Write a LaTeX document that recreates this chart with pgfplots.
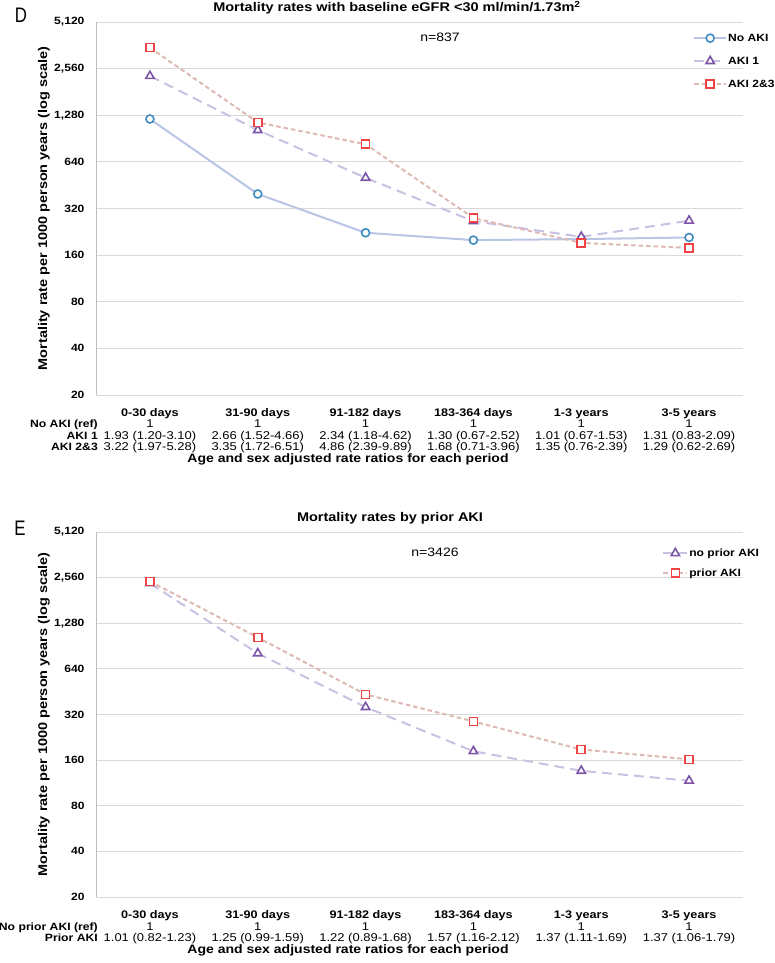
\documentclass[border=0pt]{standalone}
\usepackage{pgfplots}
\pgfplotsset{compat=1.18}
\usepackage{fontspec}
\setmainfont[FakeStretch=1.15]{Liberation Sans}
\newfontfamily\dfont[FakeStretch=0.8]{Liberation Sans}
\definecolor{gridc}{HTML}{D9D9D9}
\definecolor{axc}{HTML}{BFBFBF}
\definecolor{c1L}{HTML}{B8C5E4}
\definecolor{c1M}{HTML}{3F8BC2}
\definecolor{c2L}{HTML}{C9C1E1}
\definecolor{c2M}{HTML}{7D55A8}
\definecolor{c3L}{HTML}{DDB9B3}
\definecolor{c3M}{HTML}{F04444}
\newcommand{\fs}[1]{\fontsize{#1}{#1}\selectfont}

\tikzset{
  tabrow/.style={font=\fs{11.3}, text height=9pt, text depth=3pt, inner sep=0pt, anchor=center},
  tablab/.style={font=\bfseries\fs{10.6}, text height=9pt, text depth=3pt, inner sep=0pt, anchor=east, xshift=2pt},
  sA/.style={c1L, line width=2pt, mark=*, mark size=4pt, mark options={draw=c1M, solid, line width=1.6pt, fill=white}},
  sB/.style={c2L, line width=2pt, dash pattern=on 10pt off 6pt, mark=triangle*, mark size=4.8pt, mark options={draw=c2M, solid, line width=1.6pt, fill=white}},
  sC/.style={c3L, line width=2pt, dash pattern=on 4.5pt off 3pt, mark=square*, mark size=4pt, mark options={draw=c3M, solid, line width=1.6pt, fill=white}},
}

\begin{document}
\begin{tikzpicture}[x=1pt,y=1pt]
\path[use as bounding box] (0,0) rectangle (775,963);
\node[font=\dfont\fs{21}, anchor=center] at (21,948) {D};
\node[font=\dfont\fs{21}, anchor=center] at (20,435) {E};

% ---------------- Panel D ----------------
\begin{axis}[at={(96pt,568pt)}, anchor=south west, height=373pt,
    scale only axis, width=647pt,
    xmin=-0.5, xmax=5.5,
    ymode=log, log basis y=2, ymin=20, ymax=5120,
    ytick={20,40,80,160,320,640,1280,2560,5120},
    yticklabels={20,40,80,160,320,640,{1,280},{2,560},{5,120}},
    xtick={0,1,2,3,4,5},
    xticklabels={0-30 days,31-90 days,91-182 days,183-364 days,1-3 years,3-5 years},
    major tick length=0pt,
    axis x line=bottom, axis y line=left,
    axis line style={-, draw=axc, line width=0.8pt},
    x axis line style={draw=none},
    ymajorgrids, grid style={gridc, line width=0.8pt},
    yticklabel style={font=\bfseries\fs{10.5}, xshift=-8pt},
    xticklabel style={font=\bfseries\fs{11}, anchor=center, text height=9pt, text depth=3pt, inner sep=0pt, yshift=-18.7pt},
    ylabel={Mortality rate per 1000 person years (log scale)},
    ylabel style={font=\bfseries\fs{12.6}, at={(axis description cs:-0.0804,0.5)}, anchor=center},
    xlabel={Age and sex adjusted rate ratios for each period},
    clip=false,
    legend cell align=left,
  title={Mortality rates with baseline eGFR <30 ml/min/1.73m\textsuperscript{2}},
  title style={font=\bfseries\fs{12.6}, at={(axis description cs:0.4652,1)}, anchor=center, text height=10pt, text depth=3pt, inner sep=0pt, yshift=7.5pt},
  xlabel style={font=\bfseries\fs{12.2}, at={(axis description cs:0.3895,0)}, anchor=center, text height=10pt, text depth=3pt, inner sep=0pt, yshift=-63.9pt},
  legend style={at={(axis description cs:0.9227,0.976)}, anchor=north west, row sep=9pt, draw=none, fill=none, inner sep=0pt, font=\bfseries\fs{10.5},
      nodes={inner sep=1pt, text height=9pt, text depth=3pt}},
  legend image code/.code={\draw[mark repeat=2,mark phase=2,#1] plot coordinates {(0pt,0pt)(16pt,0pt)(32pt,0pt)};},
]
\addplot[sA] coordinates {(0,1210)(1,397)(2,223)(3,200)(4,203)(5,208)};
\addlegendentry{No AKI}
\addplot[sB] coordinates {(0,2293)(1,1026)(2,505)(3,265)(4,210)(5,267)};
\addlegendentry{AKI 1}
\addplot[sC] coordinates {(0,3495)(1,1151)(2,831)(3,278)(4,192)(5,178)};
\addlegendentry{AKI 2\&3}
\node[font=\fs{12.2}, anchor=center] at (axis description cs:0.5317,0.9598) {n=837};
% table rows
\node[tablab, yshift=-30pt] at (rel axis cs:0,0) {No AKI (ref)};
\node[tablab, yshift=-41.7pt] at (rel axis cs:0,0) {AKI 1};
\node[tablab, yshift=-52.7pt] at (rel axis cs:0,0) {AKI 2\&3};
\node[tabrow, yshift=-30pt] at (axis cs:0,20) {1};
\node[tabrow, yshift=-30pt] at (axis cs:1,20) {1};
\node[tabrow, yshift=-30pt] at (axis cs:2,20) {1};
\node[tabrow, yshift=-30pt] at (axis cs:3,20) {1};
\node[tabrow, yshift=-30pt] at (axis cs:4,20) {1};
\node[tabrow, yshift=-30pt] at (axis cs:5,20) {1};
\node[tabrow, yshift=-41.7pt] at (axis cs:0,20) {1.93 (1.20-3.10)};
\node[tabrow, yshift=-41.7pt] at (axis cs:1,20) {2.66 (1.52-4.66)};
\node[tabrow, yshift=-41.7pt] at (axis cs:2,20) {2.34 (1.18-4.62)};
\node[tabrow, yshift=-41.7pt] at (axis cs:3,20) {1.30 (0.67-2.52)};
\node[tabrow, yshift=-41.7pt] at (axis cs:4,20) {1.01 (0.67-1.53)};
\node[tabrow, yshift=-41.7pt] at (axis cs:5,20) {1.31 (0.83-2.09)};
\node[tabrow, yshift=-52.7pt] at (axis cs:0,20) {3.22 (1.97-5.28)};
\node[tabrow, yshift=-52.7pt] at (axis cs:1,20) {3.35 (1.72-6.51)};
\node[tabrow, yshift=-52.7pt] at (axis cs:2,20) {4.86 (2.39-9.89)};
\node[tabrow, yshift=-52.7pt] at (axis cs:3,20) {1.68 (0.71-3.96)};
\node[tabrow, yshift=-52.7pt] at (axis cs:4,20) {1.35 (0.76-2.39)};
\node[tabrow, yshift=-52.7pt] at (axis cs:5,20) {1.29 (0.62-2.69)};
\end{axis}

% ---------------- Panel E ----------------
\begin{axis}[at={(96pt,66pt)}, anchor=south west, height=365pt,
    scale only axis, width=647pt,
    xmin=-0.5, xmax=5.5,
    ymode=log, log basis y=2, ymin=20, ymax=5120,
    ytick={20,40,80,160,320,640,1280,2560,5120},
    yticklabels={20,40,80,160,320,640,{1,280},{2,560},{5,120}},
    xtick={0,1,2,3,4,5},
    xticklabels={0-30 days,31-90 days,91-182 days,183-364 days,1-3 years,3-5 years},
    major tick length=0pt,
    axis x line=bottom, axis y line=left,
    axis line style={-, draw=axc, line width=0.8pt},
    x axis line style={draw=none},
    ymajorgrids, grid style={gridc, line width=0.8pt},
    yticklabel style={font=\bfseries\fs{10.5}, xshift=-8pt},
    xticklabel style={font=\bfseries\fs{11}, anchor=center, text height=9pt, text depth=3pt, inner sep=0pt, yshift=-19pt},
    ylabel={Mortality rate per 1000 person years (log scale)},
    ylabel style={font=\bfseries\fs{12.6}, at={(axis description cs:-0.0804,0.5)}, anchor=center},
    xlabel={Age and sex adjusted rate ratios for each period},
    clip=false,
    legend cell align=left,
  title={Mortality rates by prior AKI},
  title style={font=\bfseries\fs{12.6}, at={(axis description cs:0.4544,1)}, anchor=center, text height=10pt, text depth=3pt, inner sep=0pt, yshift=8pt},
  xlabel style={font=\bfseries\fs{12.2}, at={(axis description cs:0.3895,0)}, anchor=center, text height=10pt, text depth=3pt, inner sep=0pt, yshift=-52.9pt},
  legend style={at={(axis description cs:0.875,0.9616)}, anchor=north west, row sep=6pt, draw=none, fill=none, inner sep=0pt, font=\bfseries\fs{10.5},
      nodes={inner sep=1pt, text height=9pt, text depth=3pt}},
  legend image code/.code={\draw[mark repeat=2,mark phase=2,#1] plot coordinates {(0pt,0pt)(12pt,0pt)(24pt,0pt)};},
]
\addplot[sB] coordinates {(0,2350)(1,810)(2,358)(3,183)(4,136)(5,117)};
\addlegendentry{no prior AKI}
\addplot[sC] coordinates {(0,2420)(1,1032)(2,434)(3,288)(4,188)(5,162)};
\addlegendentry{prior AKI}
\node[font=\fs{12.2}, anchor=center] at (axis description cs:0.524,0.945) {n=3426};
\node[tablab, yshift=-31pt] at (rel axis cs:0,0) {No prior AKI (ref)};
\node[tablab, yshift=-42pt] at (rel axis cs:0,0) {Prior AKI};
\node[tabrow, yshift=-31pt] at (axis cs:0,20) {1};
\node[tabrow, yshift=-31pt] at (axis cs:1,20) {1};
\node[tabrow, yshift=-31pt] at (axis cs:2,20) {1};
\node[tabrow, yshift=-31pt] at (axis cs:3,20) {1};
\node[tabrow, yshift=-31pt] at (axis cs:4,20) {1};
\node[tabrow, yshift=-31pt] at (axis cs:5,20) {1};
\node[tabrow, yshift=-42pt] at (axis cs:0,20) {1.01 (0.82-1.23)};
\node[tabrow, yshift=-42pt] at (axis cs:1,20) {1.25 (0.99-1.59)};
\node[tabrow, yshift=-42pt] at (axis cs:2,20) {1.22 (0.89-1.68)};
\node[tabrow, yshift=-42pt] at (axis cs:3,20) {1.57 (1.16-2.12)};
\node[tabrow, yshift=-42pt] at (axis cs:4,20) {1.37 (1.11-1.69)};
\node[tabrow, yshift=-42pt] at (axis cs:5,20) {1.37 (1.06-1.79)};
\end{axis}
\end{tikzpicture}
\end{document}
